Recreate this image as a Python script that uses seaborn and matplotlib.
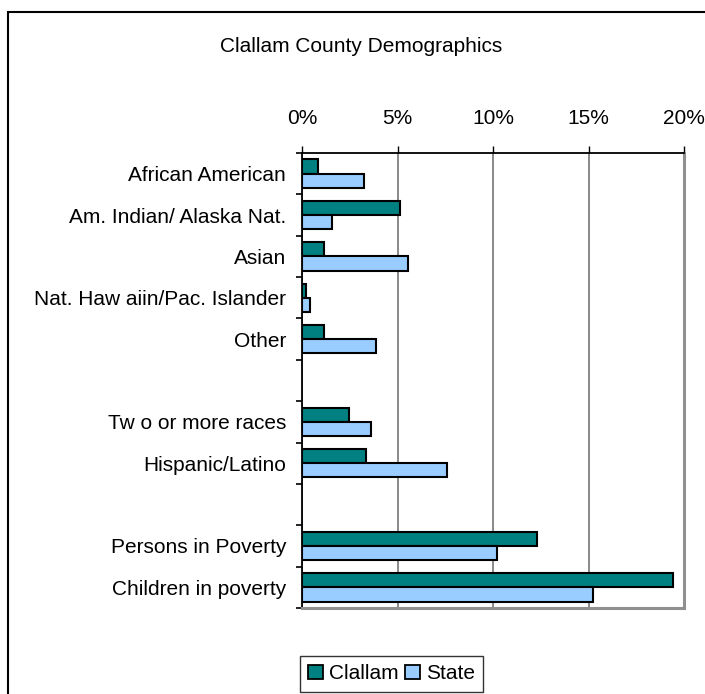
import matplotlib
matplotlib.use("Agg")
import matplotlib.pyplot as plt
import matplotlib.patches as mpatches
from matplotlib.ticker import FuncFormatter, FixedLocator
import seaborn as sns
import pandas as pd

categories = ["African American", "Am. Indian/ Alaska Nat.", "Asian",
              "Nat. Haw aiin/Pac. Islander", "Other", "",
              "Tw o or more races", "Hispanic/Latino", " ",
              "Persons in Poverty", "Children in poverty"]
data_categories = ["African American", "Am. Indian/ Alaska Nat.", "Asian",
                   "Nat. Haw aiin/Pac. Islander", "Other",
                   "Tw o or more races", "Hispanic/Latino",
                   "Persons in Poverty", "Children in poverty"]
clallam = [0.85, 5.13, 1.15, 0.2, 1.15, 2.44, 3.37, 12.29, 19.4]
state = [3.26, 1.57, 5.57, 0.43, 3.9, 3.6, 7.57, 10.19, 15.22]
series = ["Clallam", "State"]
colors = {"Clallam": "#008080", "State": "#99CCFF"}
x_ticks = [0, 5, 10, 15, 20]
title = "Clallam County Demographics"

df = pd.DataFrame({
    "Category": data_categories * 2,
    "Value": clallam + state,
    "Area": ["Clallam"] * len(clallam) + ["State"] * len(state),
})

sns.set_style("white")
plt.rcParams["font.family"] = ["Liberation Sans", "DejaVu Sans"]
plt.rcParams["text.color"] = "black"
plt.rcParams["xtick.color"] = "black"
plt.rcParams["ytick.color"] = "black"
plt.rcParams["xtick.labelcolor"] = "black"
plt.rcParams["ytick.labelcolor"] = "black"

fig = plt.figure(figsize=(7.05, 6.94), dpi=100)
ax = fig.add_axes([302 / 705, 1 - 608 / 694, (684 - 302) / 705, (608 - 153) / 694])

sns.barplot(data=df, y="Category", x="Value", hue="Area", order=categories,
            hue_order=series, palette=colors, saturation=1, width=0.69,
            edgecolor="black", linewidth=1.5, orient="h", ax=ax, legend=False,
            errorbar=None)

ax.set_xlim(0, 20)
ax.set_ylim(len(categories) - 0.5, -0.5)
ax.set_xlabel("")
ax.set_ylabel("")

ax.xaxis.tick_top()
ax.xaxis.set_major_locator(FixedLocator(x_ticks))
ax.xaxis.set_major_formatter(FuncFormatter(lambda v, p: f"{v:.0f}%"))
ax.tick_params(axis="x", which="major", direction="out", length=5, width=1,
               color="black", labelcolor="black", pad=12.8, labelsize=15,
               top=True, bottom=False)
ax.xaxis.grid(True, color="#808080", linewidth=1.3)
ax.yaxis.grid(False)
ax.set_axisbelow(True)

ax.set_yticks(range(len(categories)))
ax.set_yticklabels(categories)
ax.set_yticks([i - 0.5 for i in range(len(categories) + 1)], minor=True)
ax.tick_params(axis="y", which="major", length=0, pad=11.5, labelsize=15,
               labelcolor="black")
ax.tick_params(axis="y", which="minor", direction="out", length=4.5, width=1.2,
               color="black", left=True)

for s in ["top", "left"]:
    ax.spines[s].set_color("black")
    ax.spines[s].set_linewidth(1.3)
for s in ["right", "bottom"]:
    ax.spines[s].set_color("#909090")
    ax.spines[s].set_linewidth(2.2)

fig.text(361 / 705, 1 - 47 / 694, title, ha="center", va="center", fontsize=15,
         color="black")

handles = [mpatches.Patch(facecolor=colors[s], edgecolor="black", linewidth=1.3, label=s)
           for s in series]
leg = fig.legend(handles=handles, loc="upper left", bbox_to_anchor=(300 / 705, 1 - 656 / 694),
                 bbox_transform=fig.transFigure, ncol=2, frameon=True, fancybox=False,
                 edgecolor="black", fontsize=15, handlelength=0.7, handleheight=0.7,
                 handletextpad=0.3, columnspacing=0.3, borderpad=0.4, borderaxespad=0,
                 labelcolor="black")
leg.get_frame().set_linewidth(1.0)

fig.patches.append(mpatches.Rectangle((8 / 705, -0.5), 2, 1.5 - 12 / 694,
                                      transform=fig.transFigure, fill=False,
                                      edgecolor="black", linewidth=1.5))

fig.savefig("out.png", dpi=100, facecolor="white")
